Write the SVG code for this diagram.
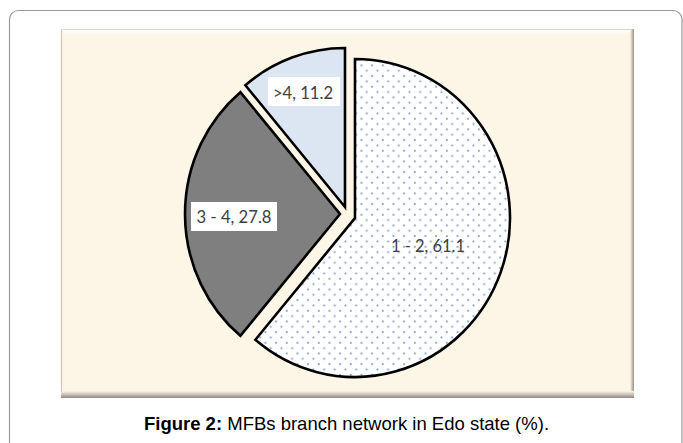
<svg xmlns="http://www.w3.org/2000/svg" width="683" height="443" viewBox="0 0 683 443">
<style>
.slice{stroke:#000;stroke-width:2.6;stroke-linejoin:miter}
.lbl{font-family:Lato,"Open Sans","Liberation Sans",sans-serif;font-size:17px;fill:#404040;text-anchor:middle}
.box{fill:#fff}
.cap{font-family:"Liberation Sans",Arial,sans-serif;font-size:18.5px;fill:#000;text-anchor:middle}
</style>
<defs>
<pattern id="dots" patternUnits="userSpaceOnUse" x="8.4" y="0.4" width="10.67" height="10.67">
<rect width="10.67" height="10.67" fill="#fff"/>
<rect x="0.1" y="0.1" width="1.7" height="1.7" fill="#6e93cc"/>
<rect x="5.43" y="5.43" width="1.7" height="1.7" fill="#6e93cc"/>
</pattern>
<linearGradient id="gB" x1="0" y1="0" x2="0" y2="1">
<stop offset="0" stop-color="#fdf5e6"/>
<stop offset="0.5" stop-color="#c9c1b5"/>
<stop offset="1" stop-color="#8e887f"/>
</linearGradient>
<linearGradient id="gR" x1="0" y1="0" x2="1" y2="0">
<stop offset="0" stop-color="#fdf5e6"/>
<stop offset="0.5" stop-color="#cdc5b9"/>
<stop offset="1" stop-color="#948e85"/>
</linearGradient>
<linearGradient id="gT" x1="0" y1="0" x2="0" y2="1">
<stop offset="0" stop-color="#ffffff"/>
<stop offset="1" stop-color="#fdf5e6"/>
</linearGradient>
</defs>
<rect width="683" height="443" fill="#fff"/>
<g id="frame">
<rect x="9.5" y="10.5" width="672.5" height="460" rx="9" fill="none" stroke="#9a9a9a" stroke-width="1.2"/>
</g>
<g id="panel">
<rect x="61" y="29" width="573" height="369" fill="#fdf5e6"/>
<rect x="62" y="30" width="568" height="5" fill="url(#gT)"/>
<rect x="630" y="29" width="4" height="369" fill="url(#gR)"/>
<rect x="61" y="391" width="573" height="7" fill="url(#gB)"/>
<line x1="61.5" y1="29" x2="61.5" y2="392" stroke="#cfc6b9" stroke-width="1.2"/>
<line x1="61" y1="29.5" x2="631" y2="29.5" stroke="#ddd6ca" stroke-width="1"/>
</g>
<g id="slice-1-2">
<path class="slice" d="M355,218 L355,59 A155,159 0 1 1 255.37,339.8 Z" fill="url(#dots)"/>
<text class="lbl" x="428" y="252" textLength="74" lengthAdjust="spacingAndGlyphs">1 - 2, 61.1</text>
</g>
<g id="slice-3-4">
<path class="slice" d="M340,214 L240.37,335.8 A155,159 0 0 1 240.37,92.2 Z" fill="#7f7f7f"/>
<rect class="box" x="191" y="202" width="86" height="29"/>
<text class="lbl" x="234" y="223.3" textLength="75" lengthAdjust="spacingAndGlyphs">3 - 4, 27.8</text>
</g>
<g id="slice-gt4">
<path class="slice" d="M345,207 L245.37,85.2 A155,159 0 0 1 345,48 Z" fill="#dce6f2"/>
<rect class="box" x="268" y="77" width="72" height="29"/>
<text class="lbl" x="303" y="99" textLength="60" lengthAdjust="spacingAndGlyphs">&gt;4, 11.2</text>
</g>
<g id="connectors"/>
<text class="cap" x="346.5" y="430"><tspan font-weight="bold">Figure 2:</tspan> MFBs branch network in Edo state (%).</text>
</svg>
